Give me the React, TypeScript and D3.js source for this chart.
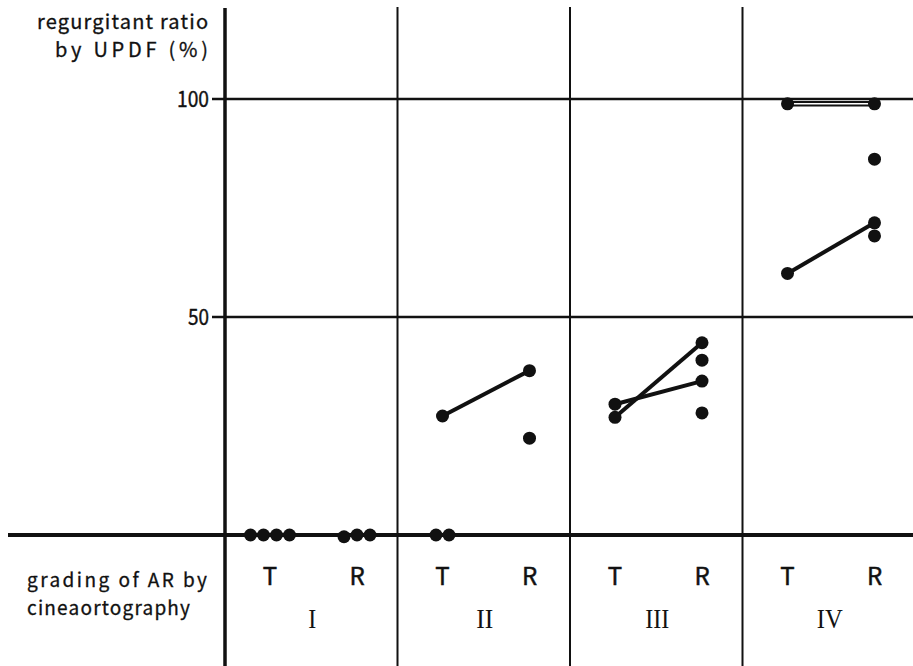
import React from 'react';
import * as d3 from 'd3';

// grading of AR by cineaortography
const grades = ['I', 'II', 'III', 'IV'];
const sides = ['T', 'R'];

// regurgitant ratio by UPDF (%), one list per grade
const tValues = [
  [0, 0, 0, 0],
  [0, 0, 27.3],
  [30.0, 27.0],
  [98.9, 60.0],
];
const rValues = [
  [-0.4, 0, 0],
  [37.7, 22.2],
  [44.1, 40.1, 35.3, 28.0],
  [98.9, 86.2, 71.6, 68.6],
];

// T -> R pairs joined by a line: [grade, T value, R value]
const pairs: [string, number, number][] = [
  ['II', 27.3, 37.7],
  ['III', 30.0, 35.3],
  ['III', 27.0, 44.1],
  ['IV', 98.9, 98.9],
  ['IV', 60.0, 71.6],
];
const doubleLinePairs = [3];

const yTicks = [50, 100];

const width = 913;
const height = 666;
const dotR = 6.5;

const App: React.FC = () => {
  const y = d3.scaleLinear().domain([0, 100]).range([535, 99]);
  const xGrade = d3.scaleBand<string>().domain(grades).range([225, 915]);
  const xSide = d3.scalePoint<string>().domain(sides).range([45, 132]);
  const sx = (g: string, s: string) => (xGrade(g) as number) + (xSide(s) as number);

  // dots with (about) the same value are laid side by side
  const dots: { x: number; y: number }[] = [];
  grades.forEach((g, gi) => {
    [tValues[gi], rValues[gi]].forEach((vals, si) => {
      const clusters = d3.group(vals, v => Math.round(v / 2));
      clusters.forEach(list => {
        list.forEach((v, i) => {
          const off = (i - (list.length - 1) / 2) * dotR * 2;
          dots.push({ x: sx(g, sides[si]) + off, y: y(v) });
        });
      });
    });
  });

  const sans = '"Noto Sans CJK JP", "Noto Sans", sans-serif';
  const serif = '"Liberation Serif", "DejaVu Serif", serif';
  const romanWidth: Record<string, number> = { I: 8, II: 17, III: 24, IV: 26 };

  return (
    <div style={{ position: 'absolute', left: 0, top: 0 }}>
      <svg width={width} height={height} viewBox={`0 0 ${width} ${height}`} style={{ display: 'block', background: '#fff' }}>
        {/* horizontal rules */}
        {yTicks.map(t => (
          <g key={t}>
            <line x1={212} x2={width} y1={y(t)} y2={y(t)} stroke="#111" strokeWidth={2.5} />
            <text x={209} y={y(t) + 8} textAnchor="end" fontFamily={sans} fontSize={22}
              stroke="#111" strokeWidth={0.4}
              textLength={t === 100 ? 32 : 21} lengthAdjust="spacingAndGlyphs" fill="#111">{t}</text>
          </g>
        ))}
        <line x1={8} x2={width} y1={y(0)} y2={y(0)} stroke="#111" strokeWidth={4} />

        {/* vertical rules */}
        <line x1={225} x2={225} y1={8} y2={height} stroke="#111" strokeWidth={3.5} />
        {grades.slice(1).map(g => (
          <line key={g} x1={xGrade(g)} x2={xGrade(g)} y1={7} y2={height} stroke="#111" strokeWidth={2} />
        ))}

        {/* axis titles */}
        <g fontFamily={sans} fill="#111" stroke="#111" strokeWidth={0.3}>
          <text x={208} y={29} textAnchor="end" fontSize={20}
            textLength={171} lengthAdjust="spacing">regurgitant ratio</text>
          <text x={208} y={57} textAnchor="end" fontSize={20}
            textLength={153} lengthAdjust="spacing">by UPDF (%)</text>
          <text x={27} y={587} fontSize={19}
            textLength={180} lengthAdjust="spacing">grading of AR by</text>
          <text x={27} y={615} fontSize={19}
            textLength={163} lengthAdjust="spacing">cineaortography</text>
        </g>

        {/* category labels */}
        {grades.map(g => (
          <g key={g}>
            {sides.map(s => (
              <text key={s} x={sx(g, s)} y={585} textAnchor="middle" fontFamily={sans} fontSize={24}
                stroke="#111" strokeWidth={0.5} fill="#111">{s}</text>
            ))}
            <text x={(xGrade(g) as number) + xGrade.bandwidth() / 2 + 1} y={628} textAnchor="middle"
              fontFamily={serif} fontSize={28} textLength={romanWidth[g]} lengthAdjust="spacingAndGlyphs"
              fill="#111">{g}</text>
          </g>
        ))}

        {/* paired lines */}
        {pairs.map(([g, tv, rv], i) => {
          const x1 = sx(g, 'T');
          const x2 = sx(g, 'R');
          const double = doubleLinePairs.includes(i);
          return (
            <g key={i}>
              <line x1={x1} x2={x2} y1={y(tv)} y2={y(rv)} stroke="#111" strokeWidth={double ? 5.5 : 4} />
              {double && <line x1={x1 + 6} x2={x2 - 6} y1={y(tv)} y2={y(rv)} stroke="#fff" strokeWidth={1.6} />}
            </g>
          );
        })}

        {/* dots */}
        {dots.map((d, i) => (
          <circle key={i} cx={d.x} cy={d.y} r={dotR} fill="#111" />
        ))}
      </svg>
    </div>
  );
};

export default App;
